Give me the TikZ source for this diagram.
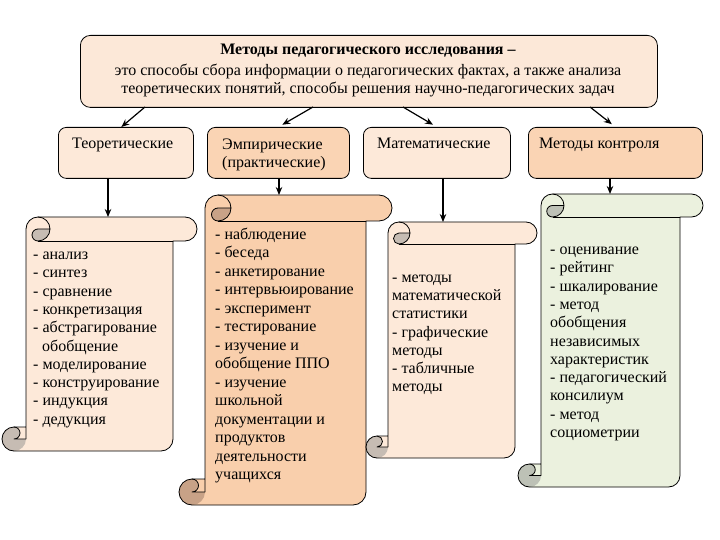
\documentclass[tikz,border=0pt]{standalone}
\usepackage{fontspec}
\setmainfont{Liberation Serif}
\usetikzlibrary{arrows.meta,calc}
\definecolor{topfill}{HTML}{FCE8D8}
\definecolor{peachL}{HTML}{FDE9D9}
\definecolor{peachD}{HTML}{FAD4B4}
\definecolor{peachS}{HTML}{F9CFAC}
\definecolor{greenL}{HTML}{EBF1DE}
\definecolor{curlA}{HTML}{C6BCB3}
\definecolor{curlB}{HTML}{C8A287}
\definecolor{curlC}{HTML}{BDC1B6}
\newcommand{\mfont}{\fontsize{16}{18.3}\selectfont}
\tikzset{
  box/.style={draw=black, line width=0.8pt, rounded corners=8pt, anchor=north west, inner sep=0pt},
  lbl/.style={anchor=base west, inner sep=0pt, font=\mfont},
  arr/.style={draw=black, line width=1.2pt, -{Stealth[length=8pt,width=6.5pt]}},
  outl/.style={draw=black, line width=0.8pt, line join=round},
}
% #1 X0, #2 X1, #3 Y0, #4 Y1 (pixels, y down), #5 roll height, #6 fill, #7 curl colour
\newcommand{\scrollshape}[7]{%
  \pgfmathsetmacro\scXa{#1}%
  \pgfmathsetmacro\scXb{#2}%
  \pgfmathsetmacro\scT{-(#3)}%
  \pgfmathsetmacro\scB{-(#4)}%
  \pgfmathsetmacro\scCh{#5}%
  \pgfmathsetmacro\scR{(#5)/2}%
  \pgfmathsetmacro\scQ{(#5)/4}%
  \pgfmathsetmacro\scL{#1+#5}%
  \pgfmathsetmacro\scRt{#2-#5}%
  \fill[#6] (\scL,\scB+\scR) -- (\scL,\scT-\scR) arc[start angle=180,end angle=90,radius=\scR pt]
     -- (\scXb-\scR,\scT) arc[start angle=90,end angle=-90,radius=\scR pt]
     -- (\scRt,\scT-\scCh) -- (\scRt,\scB+\scR) arc[start angle=0,end angle=-90,radius=\scR pt]
     -- (\scXa+\scR,\scB) arc[start angle=-90,end angle=-270,radius=\scR pt]
     -- (\scL,\scB+\scCh) -- cycle;
  \fill[#7] (\scL+\scCh,\scT-\scR) arc[start angle=0,end angle=-90,radius=\scR pt]
     arc[start angle=-90,end angle=-270,radius=\scQ pt] -- cycle;
  \fill[#7] (\scXa+\scR,\scB+\scR) circle[radius=\scR pt];
  \fill[#6] (\scXa+\scR,\scB+\scCh) -- (\scL,\scB+\scCh) -- (\scL,\scB+\scR) -- (\scXa+\scR,\scB+\scR)
     arc[start angle=-90,end angle=90,radius=\scQ pt] -- cycle;
  \draw[outl] (\scL,\scB+\scR) -- (\scL,\scT-\scR) arc[start angle=180,end angle=90,radius=\scR pt]
     -- (\scXb-\scR,\scT) arc[start angle=90,end angle=-90,radius=\scR pt]
     -- (\scRt,\scT-\scCh) -- (\scRt,\scB+\scR) arc[start angle=0,end angle=-90,radius=\scR pt]
     -- (\scXa+\scR,\scB) arc[start angle=-90,end angle=-270,radius=\scR pt]
     -- (\scL,\scB+\scCh);
  \draw[outl] (\scXa+\scR,\scB+\scCh) arc[start angle=90,end angle=-90,radius=\scQ pt] -- (\scL,\scB+\scR);
  \draw[outl] (\scL+\scR,\scT) arc[start angle=90,end angle=-90,radius=\scR pt]
     arc[start angle=-90,end angle=-270,radius=\scQ pt] -- (\scL+\scCh,\scT-\scR);
  \draw[outl] (\scRt,\scT-\scCh) -- (\scL+\scR,\scT-\scCh);
}
\begin{document}
\begin{tikzpicture}[x=1pt,y=1pt]
\useasboundingbox[fill=white] (0,0) rectangle (720,-540);

% top box
\node[draw=black, line width=0.8pt, rounded corners=10pt, fill=topfill, minimum width=577pt,
      minimum height=72pt, inner sep=0pt, anchor=north west] (top) at (80,-35) {};
\node[font=\mfont, align=center, inner sep=0pt] (toptext) at (368,-70.5)
  {\textbf{Методы педагогического исследования –}\\[2.5pt]
   это способы сбора информации о педагогических фактах, а также анализа\\
   теоретических понятий, способы решения научно-педагогических задач};

% category boxes
\node[box, fill=peachL, minimum width=135pt, minimum height=51pt] (theo) at (58,-127) {};
\node[box, fill=peachD, minimum width=142pt, minimum height=51pt] (emp) at (207,-127) {};
\node[box, fill=peachL, minimum width=147pt, minimum height=51pt] (mat) at (363,-127) {};
\node[box, fill=peachD, minimum width=174pt, minimum height=51pt] (ctrl) at (528,-127) {};
\node[lbl] (theo-t) at (72,-148.5) {Теоретические};
\node[lbl] (emp-t1) at (222,-149.5) {Эмпирические};
\node[lbl] (emp-t2) at (222,-167.5) {(практические)};
\node[lbl] (mat-t) at (377,-148.5) {Математические};
\node[lbl] (ctrl-t) at (539,-148.5) {Методы контроля};

% arrows from top box
\coordinate (t1) at (145,-107);
\coordinate (t2) at (313,-107);
\coordinate (t3) at (403,-107);
\coordinate (t4) at (590,-107);
\draw[arr] (t1) -- (theo.100);
\draw[arr, shorten >=4.5pt] (t2) -- (emp.north);
\draw[arr, shorten >=4.5pt] (t3) -- (mat.north);
\draw[arr, shorten >=4.5pt] (t4) -- (ctrl.north);

% scrolls
\scrollshape{2}{197}{217}{451}{24}{peachL}{curlA}
\scrollshape{179}{392}{195}{505}{26}{peachS}{curlB}
\scrollshape{366}{537}{222}{458}{22}{peachL}{curlA}
\scrollshape{518}{703}{194}{487}{23}{greenL}{curlC}

\coordinate (s1t) at (108,-217);
\coordinate (s2t) at (279,-195);
\coordinate (s3t) at (443,-222);
\coordinate (s4t) at (610,-194);
\draw[arr] (theo.south -| s1t) -- (s1t);
\draw[arr] (emp.south -| s2t) -- (s2t);
\draw[arr] (mat.south -| s3t) -- (s3t);
\draw[arr] (ctrl.south -| s4t) -- (s4t);

% scroll texts
\foreach \t [count=\i from 0] in {- анализ, - синтез, - сравнение, - конкретизация, - абстрагирование,
   \hspace*{9pt}обобщение, - моделирование, - конструирование, - индукция, - дедукция}
  \node[lbl] (sa-\i) at (33,-259.5-\i*18.3) {\t};
\foreach \t [count=\i from 0] in {- наблюдение, - беседа, - анкетирование, - интервьюирование,
   - эксперимент, - тестирование, - изучение и, обобщение ППО, - изучение, школьной,
   документации и, продуктов, деятельности, учащихся}
  \node[lbl] (sb-\i) at (215,-239.5-\i*18.46) {\t};
\foreach \t [count=\i from 0] in {- методы, математической, статистики, - графические, методы,
   - табличные, методы}
  \node[lbl] (sc-\i) at (392,-282.5-\i*18.2) {\t};
\foreach \t [count=\i from 0] in {- оценивание, - рейтинг, - шкалирование, - метод, обобщения,
   независимых, характеристик, - педагогический, консилиум, - метод, социометрии}
  \node[lbl] (sd-\i) at (550,-254.5-\i*18.3) {\t};
\end{tikzpicture}
\end{document}
